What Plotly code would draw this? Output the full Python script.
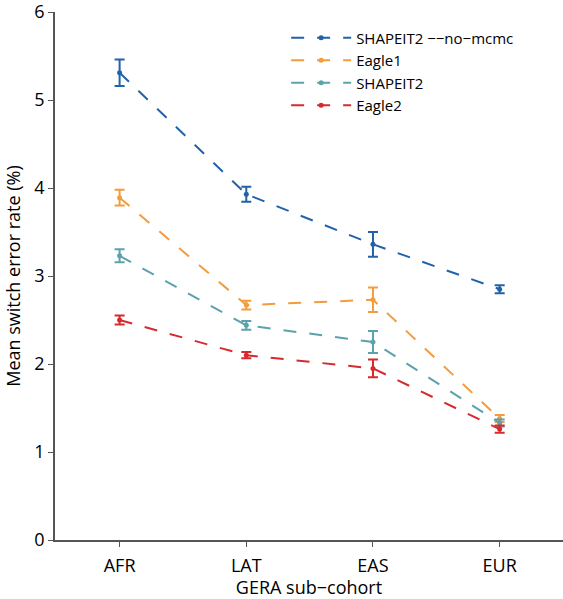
import plotly.graph_objects as go

categories = ["AFR", "LAT", "EAS", "EUR"]
series_names = ["SHAPEIT2 −−no−mcmc", "Eagle1", "SHAPEIT2", "Eagle2"]
shapeit2_nomcmc = [5.31, 3.93, 3.36, 2.85]
shapeit2_nomcmc_err = [0.15, 0.085, 0.14, 0.045]
eagle1 = [3.89, 2.67, 2.73, 1.38]
eagle1_err = [0.09, 0.05, 0.14, 0.04]
shapeit2 = [3.23, 2.44, 2.25, 1.33]
shapeit2_err = [0.075, 0.05, 0.125, 0.04]
eagle2 = [2.50, 2.10, 1.95, 1.26]
eagle2_err = [0.05, 0.035, 0.10, 0.04]

colors = ["#2162aa", "#f29c3e", "#5ca2ac", "#d62a2e"]
values = [shapeit2_nomcmc, eagle1, shapeit2, eagle2]
errors = [shapeit2_nomcmc_err, eagle1_err, shapeit2_err, eagle2_err]

FONT = "Open Sans"
xpos = list(range(1, len(categories) + 1))

fig = go.Figure()
for name, ys, es, c in zip(series_names, values, errors, colors):
    fig.add_trace(go.Scatter(
        x=xpos, y=ys, name=name, mode="lines+markers",
        line=dict(color=c, width=2, dash="13px,13px"),
        marker=dict(color=c, size=5),
        error_y=dict(type="data", array=es, visible=True, color=c, thickness=2, width=5),
        cliponaxis=False,
    ))

fig.update_layout(
    width=563, height=599,
    margin=dict(l=55, r=0, t=12, b=59, autoexpand=False),
    plot_bgcolor="white", paper_bgcolor="white",
    font=dict(family=FONT, size=17, color="black"),
    showlegend=True,
    legend=dict(x=0.455, y=0.982, xanchor="left", yanchor="top",
                font=dict(family=FONT, size=15, color="black"),
                bgcolor="rgba(0,0,0,0)", tracegroupgap=0, itemwidth=60),
    xaxis=dict(
        range=[0.49, 4.5], tickmode="array", tickvals=xpos, ticktext=categories,
        showgrid=False, zeroline=False, showline=True, linecolor="#555555", linewidth=1.5,
        ticks="outside", ticklen=5, tickcolor="#555555", ticklabelstandoff=4,
        tickfont=dict(size=18, family=FONT), automargin=False,
        title=dict(text="GERA sub−cohort", font=dict(size=18, family=FONT), standoff=0),
    ),
    yaxis=dict(
        range=[0, 6], tickvals=[0, 1, 2, 3, 4, 5, 6], ticklabeloverflow="allow",
        showgrid=False, zeroline=False, showline=True, linecolor="#555555", linewidth=1.5,
        ticks="outside", ticklen=5, tickcolor="#555555",
        tickfont=dict(size=18, family=FONT), automargin=False,
        title=dict(text="Mean switch error rate (%)", font=dict(size=18, family=FONT), standoff=9),
    ),
)

fig.write_html("out.html", config={"displayModeBar": False},
               post_script="document.body.style.margin='0';document.body.style.overflow='hidden';")
